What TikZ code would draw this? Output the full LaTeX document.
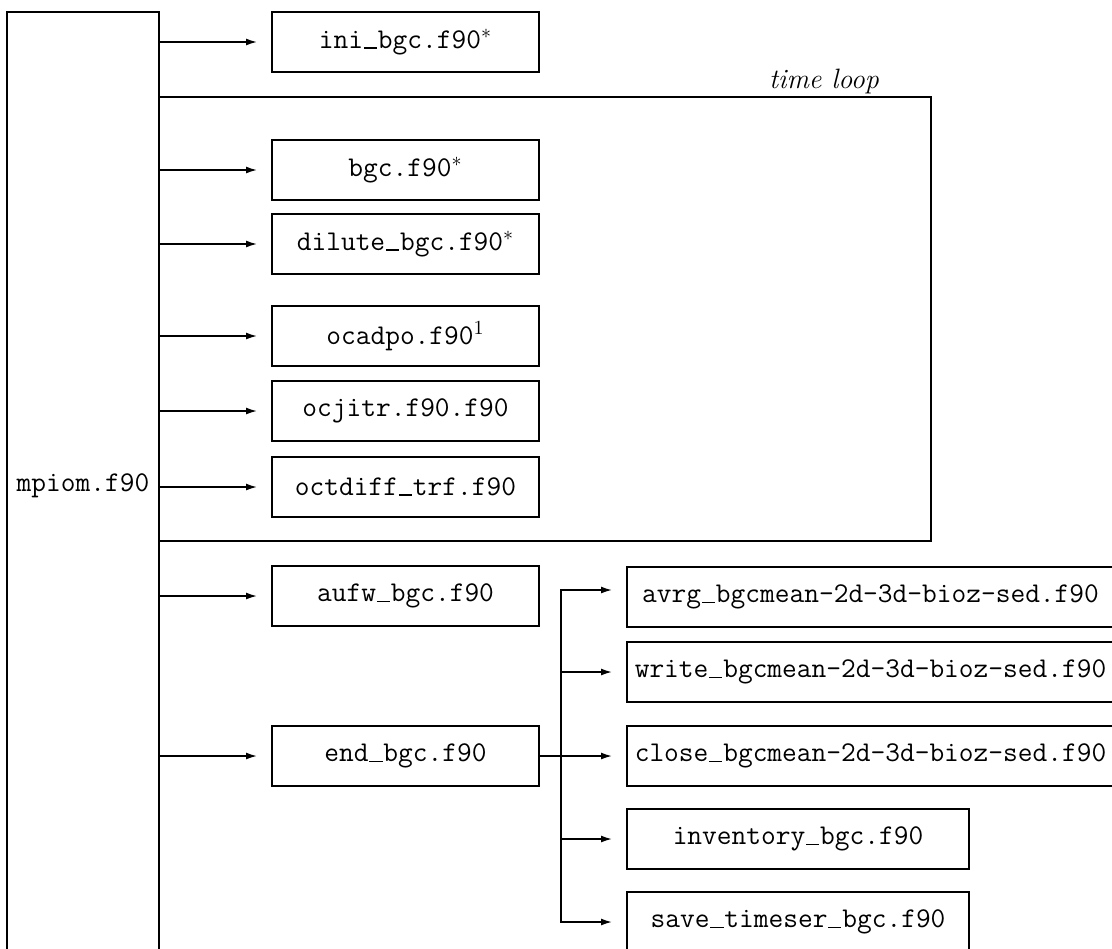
\documentclass[tikz,border=0pt]{standalone}
\usepackage{fontspec}
\usetikzlibrary{arrows.meta}
\newcommand\us{\kern0.03em\rule[-0.02em]{0.46em}{0.06em}\kern0.03em}
\tikzset{
  ttf/.style={font=\ttfamily\fontsize{14.3}{17}\selectfont},
  box/.style={draw, line width=0.8pt, minimum width=133.5pt, minimum height=30pt, inner sep=0pt, ttf},
  widebox/.style={box, minimum width=243.5pt},
  midbox/.style={box, minimum width=171pt},
  arr/.style={line width=0.8pt, -{Latex[length=5.5pt,width=3.4pt]}, shorten >=7pt},
  ln/.style={line width=0.8pt},
}
\begin{document}
\begin{tikzpicture}[x=0.5pt, y=-0.5pt]
\useasboundingbox (0,0) rectangle (1112,948);
\clip (0,0) rectangle (1112,948);
% main program
\node[ttf] (mpiom) at (83,486) {mpiom.f90};
\draw[ln] (7,960) -- (7,12) -- (159,12) -- (159,960);
\coordinate (ml) at (159,0);
% time loop frame
\draw[ln] (159,97) -| (931,541) -- (159,541);
\node[font=\itshape\fontsize{14}{16}\selectfont] (tl) at (824,81) {time loop};
% left column
\node[box] (ini) at (405.5,42) {ini\us bgc.f90$^{*}$};
\node[box] (bgc) at (405.5,170) {bgc.f90$^{*}$};
\node[box] (dil) at (405.5,244) {dilute\us bgc.f90$^{*}$};
\node[box] (oca) at (405.5,336) {ocadpo.f90$^{1}$};
\node[box] (ocj) at (405.5,411) {ocjitr.f90.f90};
\node[box] (oct) at (405.5,487) {octdiff\us trf.f90};
\node[box] (auf) at (405.5,596) {aufw\us bgc.f90};
\node[box] (endb) at (405.5,756) {end\us bgc.f90};
\foreach \n in {ini,bgc,dil,oca,ocj,oct,auf,endb}
  \draw[arr] (ml |- \n.west) -- (\n.west);
% right column
\node[widebox] (avrg) at (870.5,597) {avrg\us bgcmean-2d-3d-bioz-sed.f90};
\node[widebox] (wri) at (870.5,672) {write\us bgcmean-2d-3d-bioz-sed.f90};
\node[widebox] (clo) at (870.5,756) {close\us bgcmean-2d-3d-bioz-sed.f90};
\node[midbox] (inv) at (798,839) {inventory\us bgc.f90};
\node[midbox] (sav) at (798,922) {save\us timeser\us bgc.f90};
\coordinate (br) at (561,756);
\draw[ln] (endb.east) -- (br);
\draw[arr] (br) |- ([yshift=3.5pt]avrg.west);
\draw[arr] (br) |- (sav.west);
\draw[arr] (br |- wri.west) -- (wri.west);
\draw[arr] (br) -- (clo.west);
\draw[arr] (br |- inv.west) -- (inv.west);
\end{tikzpicture}
\end{document}
